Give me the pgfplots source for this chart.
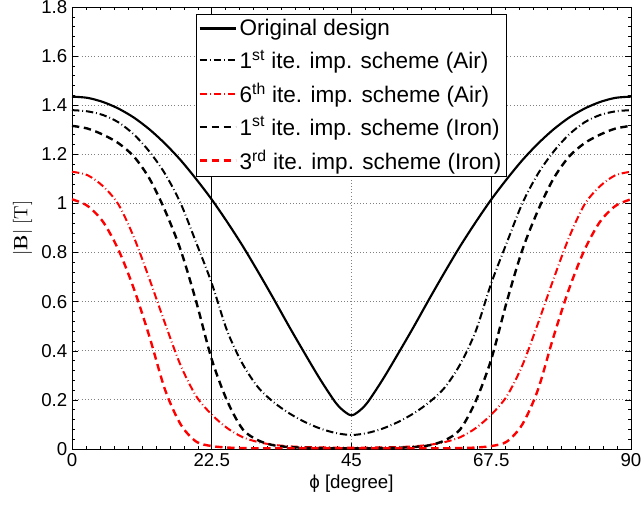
\documentclass[border=0pt]{standalone}
\usepackage[no-math]{fontspec}
\setmainfont{Liberation Sans}
\usepackage{pgfplots}
\pgfplotsset{compat=1.18}
\begin{document}
\begin{tikzpicture}
\begin{axis}[
  scale only axis, width=419.25pt, height=331.5pt,
  xmin=0, xmax=90, ymin=0, ymax=1.8,
  xtick={0,22.5,45,67.5,90},
  ytick={0,0.2,0.4,0.6,0.8,1,1.2,1.4,1.6,1.8},
  minor x tick num=9, minor y tick num=4,
  tick align=inside,
  major tick length=4.5pt, minor tick length=2.2pt,
  grid=major,
  major grid style={dotted, gray, line width=0.6pt},
  axis line style={line width=0.6pt},
  every tick/.style={black, line width=0.4pt},
  tick label style={font=\fontsize{14}{16}\selectfont},
  /pgf/number format/assume math mode=true,
  yticklabel style={/pgf/number format/fixed},
  label style={font=\fontsize{14}{16}\selectfont},
  xlabel={ϕ [degree]},
  ylabel={$|\mathbf{B}|\ [\mathrm{T}]$},
  xlabel style={yshift=1pt},
  legend style={at={(0.2218,0.984)}, anchor=north west, draw=black, fill=white,
    font=\fontsize{16.9}{20}\selectfont, line width=0.8pt,
    inner sep=1.5pt, row sep=5.2pt},
  legend cell align=left,
  legend image code/.code={\draw[#1] (0pt,0pt) -- (27pt,0pt);},
]
\addplot[black, line width=0.7pt, forget plot] coordinates {(22.5,0) (22.5,1.8)};
\addplot[black, line width=0.7pt, forget plot] coordinates {(67.5,0) (67.5,1.8)};

\addplot[black, solid, line width=1.6pt, smooth] table {
0 1.435
2.5 1.430
5 1.413
7.5 1.386
10 1.349
12.5 1.301
15 1.243
17.5 1.176
20 1.099
22.5 1.016
25 0.924
27.5 0.826
30 0.720
32.5 0.610
35 0.497
37.5 0.388
40 0.282
42.5 0.187
44 0.150
45 0.137
46 0.150
47.5 0.187
50 0.282
52.5 0.388
55 0.497
57.5 0.610
60 0.720
62.5 0.826
65 0.924
67.5 1.016
70 1.099
72.5 1.176
75 1.243
77.5 1.301
80 1.349
82.5 1.386
85 1.413
87.5 1.430
90 1.435
};
\addlegendentry{Original design}

\addplot[black, line width=1.5pt, smooth, dash pattern=on 5.5pt off 2.2pt on 0.6pt off 2.2pt] table {
0 1.380
2.5 1.375
5 1.360
7.5 1.330
10 1.280
12.5 1.210
15 1.120
17.5 1.000
20 0.840
22.5 0.675
25 0.480
27.5 0.345
30 0.250
32.5 0.190
35 0.145
37.5 0.110
40 0.083
42.5 0.065
45 0.057
47.5 0.065
50 0.083
52.5 0.110
55 0.145
57.5 0.190
60 0.250
62.5 0.345
65 0.480
67.5 0.675
70 0.840
72.5 1.000
75 1.120
77.5 1.210
80 1.280
82.5 1.330
85 1.360
87.5 1.375
90 1.380
};
\addlegendentry{1\textsuperscript{st} ite. imp. scheme (Air)}

\addplot[red, line width=1.5pt, smooth, dash pattern=on 5.5pt off 2.2pt on 0.6pt off 2.2pt] table {
0 1.129
2.5 1.115
5 1.070
7.5 0.995
10 0.860
12.5 0.690
15 0.510
17.5 0.340
20 0.215
22.5 0.140
25 0.085
27.5 0.048
30 0.028
32.5 0.017
35 0.011
37.5 0.008
40 0.007
42.5 0.006
45 0.006
47.5 0.006
50 0.007
52.5 0.008
55 0.011
57.5 0.017
60 0.028
62.5 0.048
65 0.085
67.5 0.140
70 0.215
72.5 0.340
75 0.510
77.5 0.690
80 0.860
82.5 0.995
85 1.070
87.5 1.115
90 1.129
};
\addlegendentry{6\textsuperscript{th} ite. imp. scheme (Air)}

\addplot[black, line width=1.8pt, smooth, dash pattern=on 5.5pt off 3.5pt] table {
0 1.316
2.5 1.305
5 1.280
7.5 1.245
10 1.190
12.5 1.100
15 0.970
17.5 0.810
20 0.600
22.5 0.365
25 0.195
27.5 0.080
30 0.035
32.5 0.015
35 0.008
37.5 0.005
40 0.004
42.5 0.003
45 0.003
47.5 0.003
50 0.004
52.5 0.005
55 0.008
57.5 0.015
60 0.035
62.5 0.080
65 0.195
67.5 0.365
70 0.600
72.5 0.810
75 0.970
77.5 1.100
80 1.190
82.5 1.245
85 1.280
87.5 1.305
90 1.316
};
\addlegendentry{1\textsuperscript{st} ite. imp. scheme (Iron)}

\addplot[red, line width=1.8pt, smooth, dash pattern=on 5.5pt off 3.5pt] table {
0 1.017
2.5 0.990
5 0.925
7.5 0.810
10 0.650
12.5 0.455
15 0.240
17.5 0.100
20 0.030
22.5 0.012
25 0.006
27.5 0.004
30 0.003
35 0.003
40 0.003
45 0.003
50 0.003
55 0.003
60 0.003
62.5 0.004
65 0.006
67.5 0.012
70 0.030
72.5 0.100
75 0.240
77.5 0.455
80 0.650
82.5 0.810
85 0.925
87.5 0.990
90 1.017
};
\addlegendentry{3\textsuperscript{rd} ite. imp. scheme (Iron)}

\coordinate (SW) at (rel axis cs:0,0);
\coordinate (NE) at (rel axis cs:1,1);
\end{axis}
\pgfresetboundingbox
\path[use as bounding box] ([xshift=-54pt,yshift=-43.5pt]SW) rectangle ([xshift=9pt,yshift=5.25pt]NE);
\end{tikzpicture}
\end{document}
